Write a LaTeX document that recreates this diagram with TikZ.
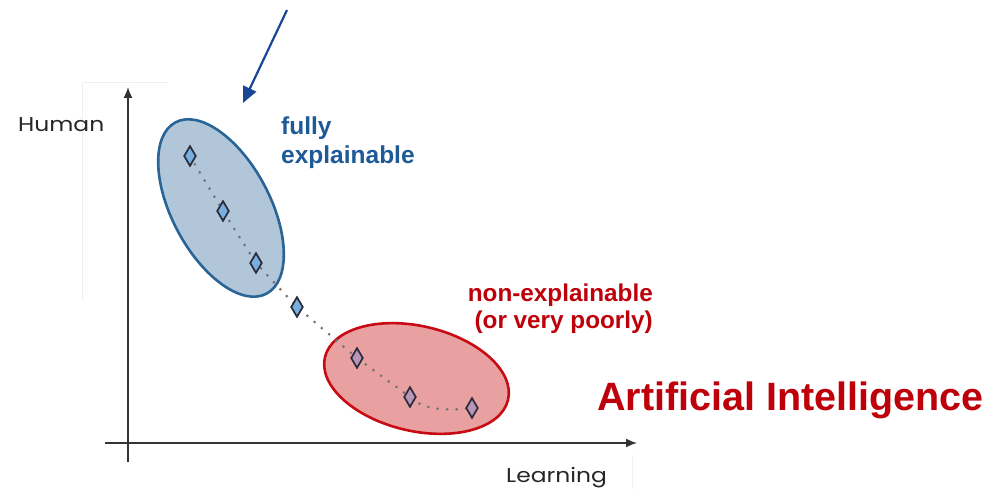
\documentclass[tikz,border=0pt]{standalone}
\usepackage{fontspec}
\setmainfont{Liberation Sans}
\newfontfamily\gothic[FakeStretch=1.17]{Poppins}
\usetikzlibrary{shapes.geometric,arrows.meta}
\definecolor{bluefill}{RGB}{178,198,218}
\definecolor{blueline}{RGB}{40,100,150}
\definecolor{bluetext}{RGB}{30,90,150}
\definecolor{arrowblue}{RGB}{25,70,150}
\definecolor{redfill}{RGB}{232,160,160}
\definecolor{redline}{RGB}{200,10,20}
\definecolor{redtext}{RGB}{190,0,10}
\definecolor{dmblue}{RGB}{120,175,225}
\definecolor{dmred}{RGB}{185,150,185}
\definecolor{dmline}{RGB}{45,45,60}
\definecolor{faint}{RGB}{240,240,240}
\tikzset{
  dm/.style={diamond, draw=dmline, line width=1.6pt, minimum width=12pt, minimum height=20pt, inner sep=0pt},
  dmb/.style={dm, fill=dmblue},
  dmr/.style={dm, fill=dmred},
  dotline/.style={draw=black!55, line width=3pt, line cap=round, dash pattern=on 0pt off 9.5pt},
  axis/.style={draw=black!80, line width=1.6pt, -{Latex[length=11pt,width=9pt]}},
  lbl/.style={inner sep=0pt, anchor=base west}
}
\begin{document}
\begin{tikzpicture}[x=1pt,y=-1pt]
\useasboundingbox (0,0) rectangle (989,489);
% faint frame lines
\draw[faint, line width=1pt] (82,83) -- (168,83);
\draw[faint, line width=1pt] (82,83) -- (82,300);
\draw[faint, line width=1pt] (632,455) -- (632,489);
% ellipses
\draw[blueline, fill=bluefill, line width=2.6pt, rotate around={-62:(221,208)}] (221,208) ellipse (97 and 49);
\draw[redline, fill=redfill, line width=2.6pt, rotate around={-13:(416.5,378.5)}] (416.5,378.5) ellipse (94 and 52.5);
% axes
\coordinate (yb) at (128,462);
\coordinate (yt) at (128,87);
\coordinate (xl) at (105,443);
\coordinate (xr) at (637,443);
\draw[axis] (yb) -- (yt);
\draw[axis] (xl) -- (xr);
% diamonds
\node[dmb] (d1) at (190,156) {};
\node[dmb] (d2) at (223,211) {};
\node[dmb] (d3) at (256,263) {};
\node[dmb] (d4) at (297,307) {};
\node[dmr] (d5) at (357,358) {};
\node[dmr] (d6) at (410,397) {};
\node[dmr] (d7) at (472,408) {};
\path[dotline] (d1.center) -- (d2.center) -- (d3.center) -- (d4.center) -- (d5.center) -- (d6.center) .. controls (426,412) and (450,410) .. (d7.center);
\node[dmb] at (d1) {};
\node[dmb] at (d2) {};
\node[dmb] at (d3) {};
\node[dmb] at (d4) {};
\node[dmr] at (d5) {};
\node[dmr] at (d6) {};
\node[dmr] at (d7) {};
% arrow
\coordinate (as) at (287,10);
\coordinate (ae) at (243,103);
\draw[arrowblue, line width=2.2pt, -{Triangle[length=16pt,width=14pt]}] (as) -- (ae);
% labels
\node[lbl, font=\gothic\fontsize{20}{22}\selectfont, text=black!85] (human) at (18,132) {Human};
\node[lbl, font=\gothic\fontsize{20}{22}\selectfont, text=black!85] (learning) at (506,482) {Learning};
\node[lbl, font=\bfseries\fontsize{24.5}{29}\selectfont, text=bluetext, align=left, anchor=north west] (fully) at (281,117) {fully\\explainable};
\node[font=\bfseries\fontsize{24.3}{27}\selectfont, text=redtext, align=right, anchor=north east, inner sep=0pt] (nonexp) at (653,284) {non-explainable\\(or very poorly)};
\node[lbl, font=\bfseries\fontsize{39.5}{44}\selectfont, text=redtext] (ai) at (597,410) {Artificial Intelligence};
\end{tikzpicture}
\end{document}
